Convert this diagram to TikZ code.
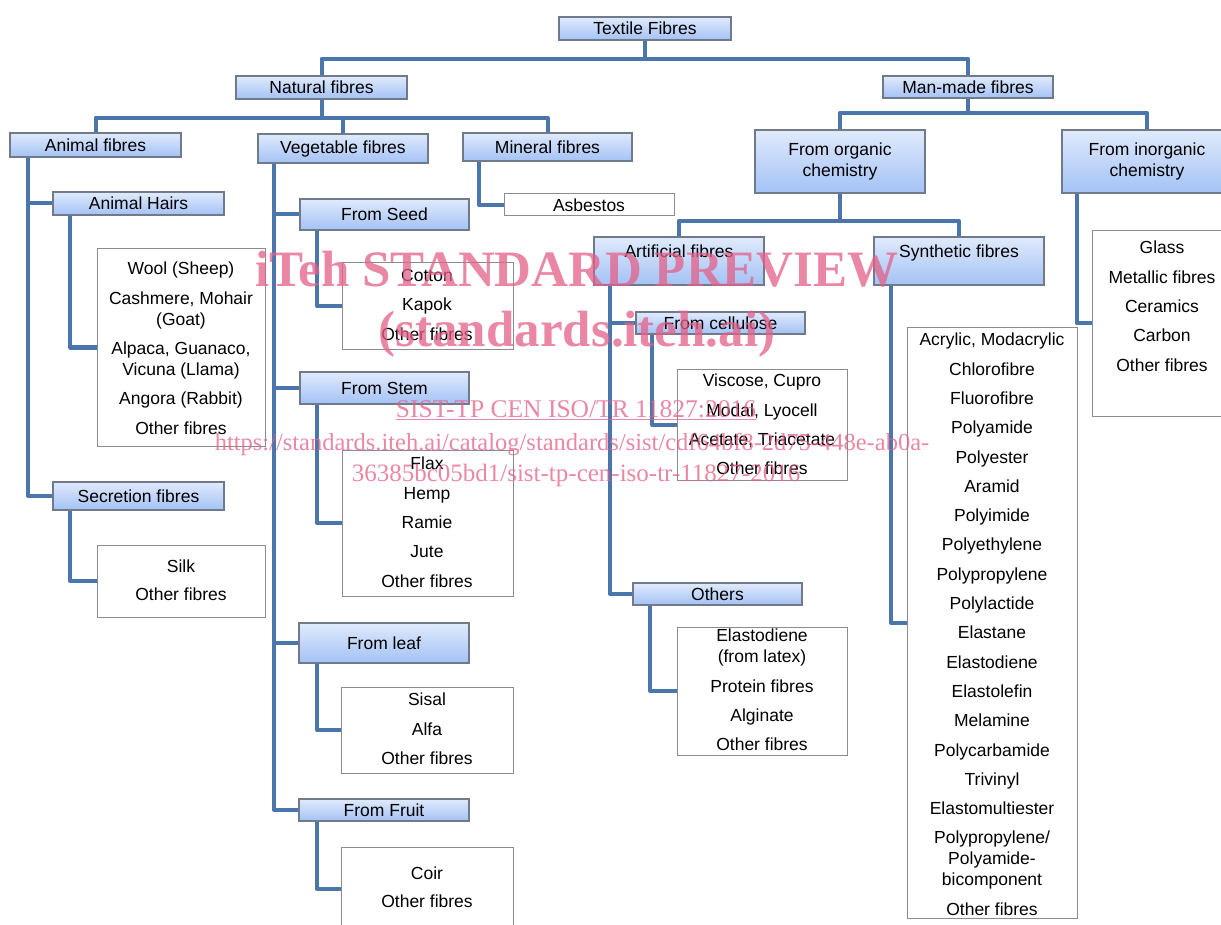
\documentclass[tikz,border=0pt]{standalone}
\usepackage{fontspec}
\setmainfont{Liberation Sans}
\newfontfamily\wmfont{Liberation Serif}
\pgfdeclarelayer{background}
\pgfsetlayers{background,main}
\definecolor{conncol}{RGB}{74,118,172}
\definecolor{hdrtop}{RGB}{224,234,252}
\definecolor{hdrbot}{RGB}{163,194,245}
\definecolor{hdrline}{RGB}{112,122,138}
\definecolor{lstline}{RGB}{140,140,140}
\definecolor{wmcol}{RGB}{228,96,136}
\tikzset{
  conn/.style={draw=conncol, line width=4pt, line join=round},
  hdr/.style={draw=hdrline, line width=1.5pt, top color=hdrtop, bottom color=hdrbot,
              inner sep=0pt, align=center, font=\fontsize{17.5}{21}\selectfont},
  toptext/.style={text height=12.5pt, text depth=18.5pt},
  lst/.style={draw=lstline, line width=1pt, fill=white, inner sep=0pt,
              align=center, font=\fontsize{17.5}{21}\selectfont},
  ltxt/.style={inner sep=0pt, align=center, font=\fontsize{17.5}{21}\selectfont},
  wm/.style={text=wmcol, opacity=0.75, text opacity=0.75, inner sep=0pt, anchor=base},
}
\newcommand\Place[7][]{%
  \node[#1, minimum width={(#5-#3)*1pt}, minimum height={(#6-#4)*1pt}]
    (#2) at ({(#3+#5)/2},{(#4+#6)/2}) {#7};}
\newcommand\ListBox[8]{%
  \Place[lst]{#1}{#2}{#3}{#4}{#5}{}
  \node[ltxt, anchor=north] (#1-t) at (#6,{#7-6}) {#8};}
\newcommand\nx{\\[8.3pt]}
\begin{document}
\begin{tikzpicture}[x=1pt,y=-1pt]
\useasboundingbox (0,0) rectangle (1221,925);
\begin{pgfonlayer}{background}
  \fill[white] (0,0) rectangle (1221,925);
\end{pgfonlayer}

% header nodes
\Place[hdr]{tf}{559}{17}{731}{40}{Textile Fibres}
\Place[hdr]{nf}{236}{76}{407}{99}{Natural fibres}
\Place[hdr]{mm}{883}{76}{1053}{98}{Man-made fibres}
\Place[hdr]{af}{10}{133}{181}{157}{Animal fibres}
\Place[hdr]{vf}{258}{134}{428}{163}{Vegetable fibres}
\Place[hdr]{mf}{463}{133}{632}{161}{Mineral fibres}
\Place[hdr]{ah}{53}{192}{224}{215}{Animal Hairs}
\Place[hdr]{sf}{53}{482}{224}{510}{Secretion fibres}
\Place[hdr]{seed}{300}{199}{469}{230}{From Seed}
\Place[hdr]{stem}{300}{372}{469}{404}{From Stem}
\Place[hdr]{leaf}{299}{623}{469}{663}{From leaf}
\Place[hdr]{fruit}{299}{799}{469}{821}{From Fruit}
\Place[hdr]{org}{755}{130}{925}{193}{From organic\\chemistry}
\Place[hdr]{inorg}{1062}{130}{1232}{193}{From inorganic\\chemistry}
\Place[hdr,toptext]{art}{594}{237}{764}{285}{Artificial fibres}
\Place[hdr,toptext]{syn}{874}{237}{1044}{285}{Synthetic fibres}
\Place[hdr]{cel}{636}{312}{805}{334}{From cellulose}
\Place[hdr]{oth}{633}{583}{802}{605}{Others}

% leaf boxes
\Place[lst]{asb}{504}{194}{674}{216}{Asbestos}
\ListBox{wool}{97}{249}{265}{446}{181}{268}{Wool (Sheep)\nx Cashmere, Mohair\\(Goat)\nx Alpaca, Guanaco,\\Vicuna (Llama)\nx Angora (Rabbit)\nx Other fibres}
\ListBox{silk}{97}{545}{265}{617}{181}{566}{Silk\\[7pt] Other fibres}
\ListBox{cotton}{342}{263}{513}{349}{427}{275}{Cotton\nx Kapok\nx Other fibres}
\ListBox{flax}{342}{450}{513}{596}{427}{463}{Flax\nx Hemp\nx Ramie\nx Jute\nx Other fibres}
\ListBox{sisal}{341}{687}{513}{773}{427}{699}{Sisal\nx Alfa\nx Other fibres}
\ListBox{coir}{341}{847}{513}{931}{427}{873}{Coir\\[7pt] Other fibres}
\ListBox{cell}{677}{369}{847}{480}{762}{380}{Viscose, Cupro\nx Modal, Lyocell\nx Acetate, Triacetate\nx Other fibres}
\ListBox{othl}{677}{627}{847}{755}{762}{635}{Elastodiene\\(from latex)\nx Protein fibres\nx Alginate\nx Other fibres}
\ListBox{synl}{907}{328}{1077}{918}{992}{339}{Acrylic, Modacrylic\nx Chlorofibre\nx Fluorofibre\nx Polyamide\nx Polyester\nx Aramid\nx Polyimide\nx Polyethylene\nx Polypropylene\nx Polylactide\nx Elastane\nx Elastodiene\nx Elastolefin\nx Melamine\nx Polycarbamide\nx Trivinyl\nx Elastomultiester\nx Polypropylene/\\Polyamide-\\bicomponent\nx Other fibres}
\ListBox{inorgl}{1092}{231}{1232}{416}{1162}{247}{Glass\nx Metallic fibres\nx Ceramics\nx Carbon\nx Other fibres}

% connectors
\begin{pgfonlayer}{background}
  \draw[conn] (tf.south) -- ++(0,18) -| (nf.north);
  \draw[conn] (tf.south) -- ++(0,18) -| (mm.north);
  \foreach \c in {af,vf,mf} \draw[conn] (nf.south) -- ++(0,18) -| (\c.north);
  \foreach \c in {org,inorg} \draw[conn] (mm.south) -- ++(0,14) -| (\c.north);
  \foreach \c in {art,syn} \draw[conn] (org.south) -- ++(0,27) -| (\c.north);
  \foreach \c in {ah,sf} \draw[conn] ([xshift=19pt]af.south west) |- (\c.west);
  \draw[conn] ([xshift=18pt]ah.south west) |- (wool.west);
  \draw[conn] ([xshift=18pt]sf.south west) |- (silk.west);
  \foreach \c in {seed,stem,leaf,fruit} \draw[conn] ([xshift=17pt]vf.south west) |- (\c.west);
  \draw[conn] ([xshift=18pt]seed.south west) |- (cotton.west);
  \draw[conn] ([xshift=18pt]stem.south west) |- (flax.west);
  \draw[conn] ([xshift=19pt]leaf.south west) |- (sisal.west);
  \draw[conn] ([xshift=19pt]fruit.south west) |- (coir.west);
  \draw[conn] ([xshift=17pt]mf.south west) |- (asb.west);
  \foreach \c in {cel,oth} \draw[conn] ([xshift=17pt]art.south west) |- (\c.west);
  \draw[conn] ([xshift=17pt]cel.south west) |- (cell.west);
  \draw[conn] ([xshift=18pt]oth.south west) |- (othl.west);
  \draw[conn] ([xshift=18pt]syn.south west) |- (synl.west);
  \draw[conn] ([xshift=16pt]inorg.south west) |- (inorgl.west);
\end{pgfonlayer}

% watermark
\node[wm, font=\wmfont\bfseries\fontsize{51}{51}\selectfont] (wm1) at (577,287) {iTeh STANDARD PREVIEW};
\node[wm, font=\wmfont\bfseries\fontsize{51}{51}\selectfont] (wm2) at (577,346) {(standards.iteh.ai)};
\node[wm, font=\wmfont\fontsize{25.5}{26}\selectfont] (wm3) at (576,417) {\underline{SIST-TP CEN ISO/TR 11827:2016}};
\node[wm, font=\wmfont\fontsize{24.5}{26}\selectfont] (wm4) at (572,450) {https://standards.iteh.ai/catalog/standards/sist/cdf64bf8-2d75-448e-ab0a-};
\node[wm, font=\wmfont\fontsize{25}{26}\selectfont] (wm5) at (576,481) {36385bc05bd1/sist-tp-cen-iso-tr-11827-2016};
\end{tikzpicture}
\end{document}
